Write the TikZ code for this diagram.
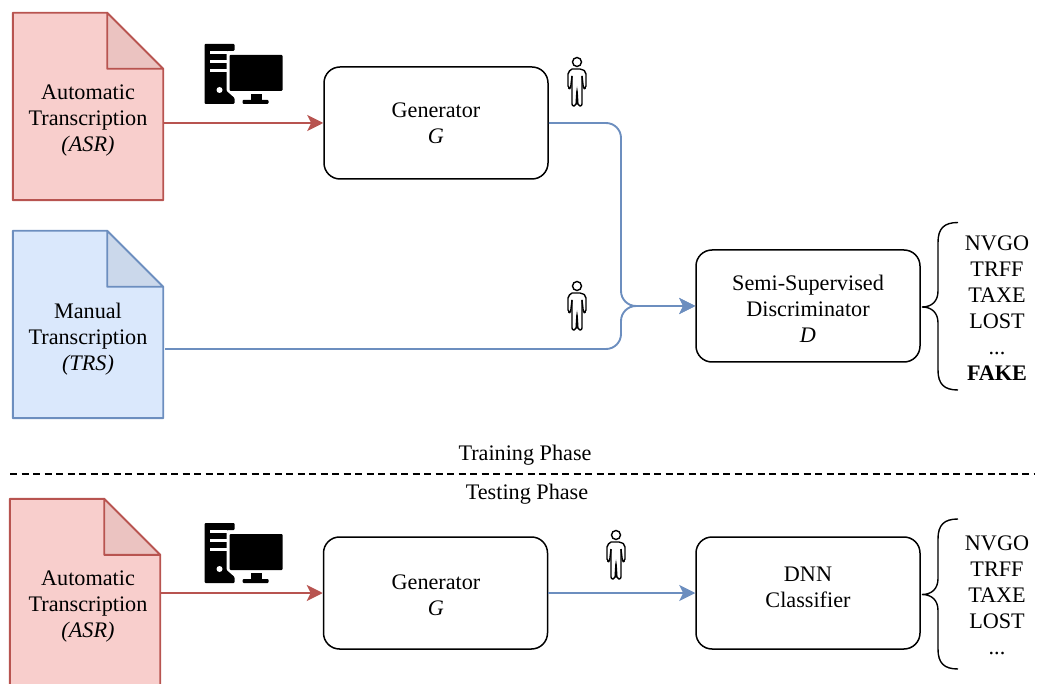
\documentclass[tikz,border=0pt]{standalone}
\usepackage{fontspec}
\setmainfont{Liberation Serif}
\usetikzlibrary{arrows.meta}
\definecolor{redfill}{HTML}{F8CECC}
\definecolor{redfold}{HTML}{EBC3C1}
\definecolor{redline}{HTML}{B85450}
\definecolor{bluefill}{HTML}{DAE8FC}
\definecolor{bluefold}{HTML}{CBD8EB}
\definecolor{blueline}{HTML}{6C8EBF}
\tikzset{
    every node/.style={font=\fontsize{22.2}{26}\selectfont, align=center, inner sep=0pt},
    box/.style={draw=black, line width=1.5pt, rounded corners=16pt, minimum width=224pt, minimum height=112pt},
    docbody/.style={minimum width=150pt, minimum height=187pt},
    flowred/.style={draw=redline, line width=1.9pt, -{Stealth[length=16pt,width=16pt,inset=4pt]}},
    flowblue/.style={draw=blueline, line width=1.9pt, rounded corners=15pt, -{Stealth[length=16pt,width=16pt,inset=4pt]}},
    pics/computer/.style={code={
        \fill[rounded corners=1pt] (0,0) -- (30,0) -- (30,7) -- (22,7) -- (22,47) -- (30,54) -- (30,60) -- (0,60) -- cycle;
        \fill[white] (5,7) rectangle (22,10);
        \fill[white] (5,16) rectangle (22,19);
        \fill[white] (5,25) rectangle (22,28);
        \fill[white] (15,46) circle (3);
        \fill[rounded corners=1pt] (25,11) rectangle (78,47);
        \fill (46,50) rectangle (57,56);
        \fill[rounded corners=1pt] (38,56) rectangle (64,60);
    }},
    pics/person/.style={code={
        \draw[line width=1.4pt] (0,0) circle (4.5);
        \draw[line width=1.4pt, line join=round, rounded corners=2pt] (-5,7) -- (5,7) -- (9,10) -- (9,26) -- (6.5,27) -- (5,14);
        \draw[line width=1.4pt, line join=round, rounded corners=2pt] (-5,7) -- (-9,10) -- (-9,26) -- (-6.5,27) -- (-5,14);
        \draw[line width=1.4pt, rounded corners=2pt] (-5,14) -- (-5,44) -- (-1,44) -- (0,28) -- (1,44) -- (5,44) -- (5,14);
    }}
}
\newcommand{\docpage}[3]{
    \draw[#3, line width=1.9pt, fill=#2, line join=round] (#1.north west) -- ([xshift=-56pt]#1.north east) -- ([yshift=-56pt]#1.north east) -- (#1.south east) -- (#1.south west) -- cycle;
}
\newcommand{\docfold}[3]{
    \draw[#3, line width=1.9pt, fill=#2, line join=round] ([xshift=-56pt]#1.north east) -- ([xshift=-56pt,yshift=-56pt]#1.north east) -- ([yshift=-56pt]#1.north east) -- cycle;
}
\newcommand{\classbrace}[3]{
    \draw[line width=1.4pt] (958,#1) .. controls (944,#1) and (938,#1+6) .. (938,#1+20) -- (938,#2-16) .. controls (938,#2-6) and (932,#2) .. (922,#2) .. controls (932,#2) and (938,#2+6) .. (938,#2+16) -- (938,#3-20) .. controls (938,#3-6) and (944,#3) .. (958,#3);
}

\begin{document}
\begin{tikzpicture}[x=1pt,y=-1pt]
    \useasboundingbox (0,0) rectangle (1039,684);
    % training phase
    \node[docbody] (asrtop) at (88,106.5) {};
    \node[docbody] (trs) at (88,324.5) {};
    \node[docbody] (asrbot) at (85,592.5) {};
    \docpage{asrtop}{redfill}{redline}
    \docfold{asrtop}{redfold}{redline}
    \docpage{trs}{bluefill}{blueline}
    \docfold{trs}{bluefold}{blueline}
    \docpage{asrbot}{redfill}{redline}
    \docfold{asrbot}{redfold}{redline}
    \node (asrtoptext) at (88,121) {Automatic\\Transcription\\\textit{(ASR)}};
    \node (trstext) at (88,339) {Manual~\\Transcription\\\textit{(TRS)}};
    \node (asrbottext) at (88,607) {Automatic\\Transcription\\\textit{(ASR)}};

    \node[box] (gentop) at (436,123) {};
    \node (gentoptext) at (436,123) {Generator\\\textit{G}};
    \node[box] (disc) at (808,306) {};
    \node (disctext) at (808,308.5) {Semi-Supervised\\Discriminator\\\textit{D}};
    \coordinate (merge) at (621,306);
    \coordinate (trsout) at (165,349);
    \draw[flowred] (asrtop.east |- gentop.west) -- (gentop.west);
    \draw[flowblue] (gentop.east) -| (merge) -- (disc.west);
    \draw[flowblue] (trsout) -| (merge) -- (disc.west);

    \pic at (204.5,44) {computer};
    \pic at (577,62) {person};
    \pic at (577,286) {person};
    \classbrace{222.5}{307}{390}
    \node (listtop) at (997,308.5) {NVGO\\TRFF\\TAXE\\LOST\\...\\\textbf{FAKE}};

    % separator
    \node (training) at (525,455) {Training Phase};
    \node (testing) at (527,494) {Testing Phase};
    \coordinate (sepl) at (10,474);
    \coordinate (sepr) at (1035,474);
    \draw[line width=1.4pt, dash pattern=on 7pt off 4.5pt] (sepl) -- (sepr);

    % testing phase
    \node[box] (genbot) at (435.5,593) {};
    \node (genbottext) at (436,595.5) {Generator\\\textit{G}};
    \node[box] (dnn) at (808,593) {};
    \node (dnntext) at (808,587.5) {DNN\\Classifier};
    \draw[flowred] (asrbot.east |- genbot.west) -- (genbot.west);
    \draw[flowblue] (genbot.east) -- (dnn.west);

    \pic at (204.5,523) {computer};
    \pic at (616,535) {person};
    \classbrace{519}{594.5}{669}
    \node (listbot) at (997,595) {NVGO\\TRFF\\TAXE\\LOST\\...};
\end{tikzpicture}
\end{document}
